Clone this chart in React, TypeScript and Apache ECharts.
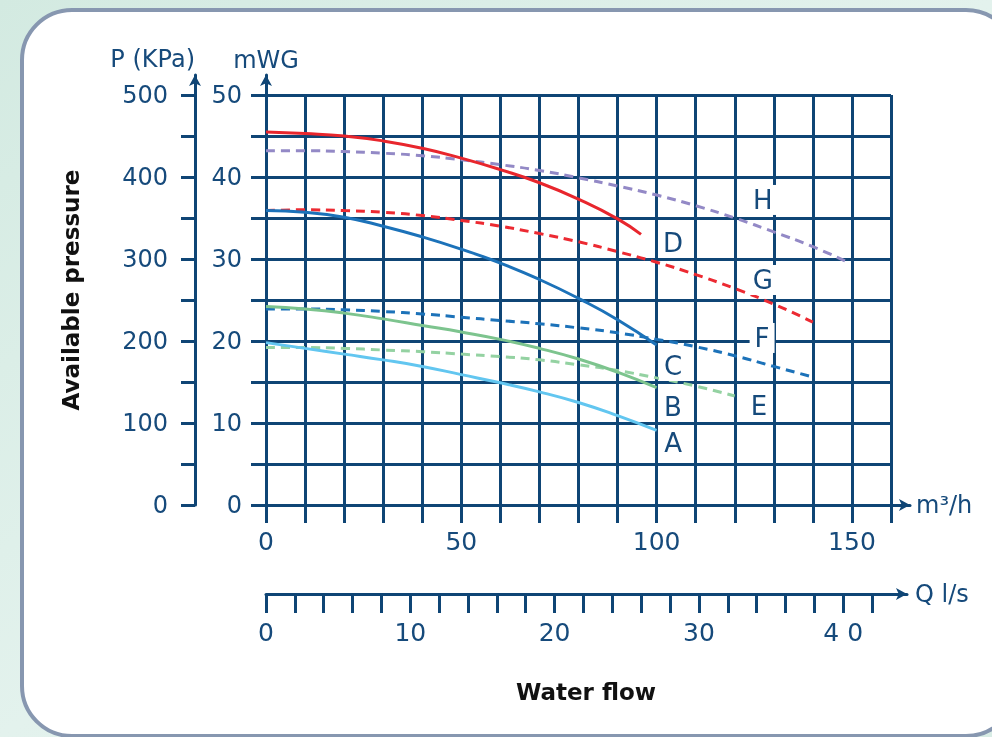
import React, { useEffect, useRef } from "react";
import * as echarts from "echarts";

const FONT = "DejaVu Sans, Liberation Sans, sans-serif";
const NAVY = "#0f4575";
const TEXT = "#164a7b";

// Flow in m3/h, head in mWG
const curveA = [[0, 19.8], [10, 19.1], [20, 18.4], [30, 17.7], [40, 16.9], [50, 15.9], [60, 14.9], [70, 13.8], [80, 12.5], [90, 10.9], [100, 9.1]];
const curveB = [[0, 24.2], [10, 23.9], [20, 23.4], [30, 22.7], [40, 21.9], [50, 21.1], [60, 20.2], [70, 19.1], [80, 17.8], [90, 16.2], [100, 14.3]];
const curveC = [[0, 35.9], [10, 35.7], [20, 35.1], [30, 34.0], [40, 32.7], [50, 31.2], [60, 29.5], [70, 27.5], [80, 25.2], [90, 22.6], [100, 19.5]];
const curveD = [[0, 45.5], [10, 45.3], [20, 45.0], [30, 44.4], [40, 43.5], [50, 42.3], [60, 40.9], [70, 39.3], [80, 37.3], [90, 34.9], [96, 33.0]];
const curveE = [[0, 19.2], [10, 19.2], [20, 19.1], [30, 18.9], [40, 18.7], [50, 18.4], [60, 18.1], [70, 17.7], [80, 17.1], [90, 16.4], [100, 15.5], [110, 14.5], [120, 13.3]];
const curveF = [[0, 23.9], [10, 23.9], [20, 23.8], [30, 23.6], [40, 23.3], [50, 22.9], [60, 22.5], [70, 22.1], [80, 21.6], [90, 21.0], [100, 20.2], [110, 19.3], [120, 18.2], [130, 16.9], [140, 15.6]];
const curveG = [[0, 35.9], [10, 36.0], [20, 35.9], [30, 35.7], [40, 35.3], [50, 34.7], [60, 34.0], [70, 33.1], [80, 32.1], [90, 30.9], [100, 29.6], [110, 28.1], [120, 26.4], [130, 24.5], [140, 22.3]];
const curveH = [[0, 43.2], [10, 43.2], [20, 43.1], [30, 42.9], [40, 42.6], [50, 42.1], [60, 41.5], [70, 40.8], [80, 39.9], [90, 38.9], [100, 37.8], [110, 36.5], [120, 35.0], [130, 33.3], [140, 31.5], [149, 29.6]];

// Curve tags (anchor in data coordinates: m3/h, mWG)
const tagNames = ["A", "B", "C", "D", "E", "F", "G", "H"];
const tagFlow = [104.2, 104.2, 104.2, 104.2, 126.2, 127.0, 127.2, 127.2];
const tagHead = [7.56, 11.95, 16.95, 31.95, 12.07, 20.37, 27.44, 37.2];

// Axis ticks
const flowLabels = [0, 50, 100, 150];
const kpaTicks = [0, 50, 100, 150, 200, 250, 300, 350, 400, 450, 500];
const kpaLabels = [0, 100, 200, 300, 400, 500];
const lsTicks = [0, 2, 4, 6, 8, 10, 12, 14, 16, 18, 20, 22, 24, 26, 28, 30, 32, 34, 36, 38, 40, 42];
const lsLabels = [0, 10, 20, 30, 40];

const curveStyles = [
  { data: curveH, color: "#9389c6", dashed: true },
  { data: curveG, color: "#ec2a32", dashed: true },
  { data: curveD, color: "#e8262d", dashed: false },
  { data: curveF, color: "#1c72b9", dashed: true },
  { data: curveC, color: "#1c72b9", dashed: false },
  { data: curveE, color: "#94d2a2", dashed: true },
  { data: curveB, color: "#7dc48e", dashed: false },
  { data: curveA, color: "#62c6f0", dashed: false },
];

export default function App() {
  const ref = useRef<HTMLDivElement>(null);

  useEffect(() => {
    if (!ref.current) return;
    const chart = echarts.init(ref.current, undefined, { renderer: "svg" });

    const hiddenAxis = (gridIndex: number) => ({
      type: "value",
      gridIndex,
      show: false,
      min: 0,
      max: 1,
    });

    const navyLine = { color: NAVY, width: 3 };

    const option: any = {
      animation: false,
      backgroundColor: "transparent",
      textStyle: { fontFamily: FONT },
      graphic: {
        elements: [
          {
            type: "rect",
            z: -20,
            silent: true,
            shape: { x: 0, y: 0, width: 992, height: 737 },
            style: {
              fill: new echarts.graphic.LinearGradient(0, 0, 1, 1, [
                { offset: 0, color: "#d3eae1" },
                { offset: 0.5, color: "#e3f2ed" },
                { offset: 1, color: "#d8ece5" },
              ]),
            },
          },
          {
            type: "rect",
            z: -19,
            silent: true,
            shape: { x: 22, y: 10, width: 994, height: 726, r: 50 },
            style: { fill: "#ffffff", stroke: "#8797b0", lineWidth: 4 },
          },
          {
            type: "text",
            z: 5,
            x: 71,
            y: 290,
            rotation: Math.PI / 2,
            style: {
              text: "Available pressure",
              fontFamily: FONT,
              fontSize: 23,
              fontWeight: "bold",
              fill: "#111111",
              align: "center",
              verticalAlign: "middle",
            },
          },
          {
            type: "text",
            z: 5,
            x: 586,
            y: 692,
            style: {
              text: "Water flow",
              fontFamily: FONT,
              fontSize: 23,
              fontWeight: "bold",
              fill: "#111111",
              align: "center",
              verticalAlign: "middle",
            },
          },
        ],
      },
      grid: [
        { left: 266, top: 95, width: 625, height: 410 },
        { left: 266, top: 75, width: 625, height: 430 },
        { left: 195, top: 75, width: 100, height: 430 },
        { left: 266, top: 95, width: 644, height: 410 },
        { left: 266, top: 95, width: 641, height: 499 },
      ],
      xAxis: [
        {
          type: "value",
          gridIndex: 0,
          min: 0,
          max: 160,
          interval: 10,
          axisLine: { show: false },
          axisTick: { show: true, length: 18, lineStyle: navyLine },
          splitLine: { show: true, lineStyle: navyLine },
          axisLabel: {
            customValues: flowLabels,
            fontSize: 25,
            color: TEXT,
            fontFamily: FONT,
            margin: 24,
          },
        },
        hiddenAxis(1),
        hiddenAxis(2),
        {
          type: "value",
          gridIndex: 3,
          min: 0,
          max: 164.9,
          axisLine: { show: true, symbol: ["none", "arrow"], symbolSize: [9, 11], lineStyle: navyLine },
          axisTick: { show: false },
          axisLabel: { show: false },
          splitLine: { show: false },
          name: "m³/h",
          nameLocation: "end",
          nameGap: 6,
          nameTextStyle: {
            fontSize: 24,
            color: TEXT,
            fontFamily: FONT,
            align: "left",
            verticalAlign: "middle",
            padding: [0, 0, 16, 0],
          },
        },
        {
          type: "value",
          gridIndex: 4,
          min: 0,
          max: 44.42,
          axisLine: { show: true, symbol: ["none", "arrow"], symbolSize: [9, 11], lineStyle: navyLine },
          axisTick: { show: true, customValues: lsTicks, length: 19, lineStyle: navyLine },
          axisLabel: {
            customValues: lsLabels,
            formatter: (v: number) => (v === 40 ? "4 0" : String(v)),
            fontSize: 25,
            color: TEXT,
            fontFamily: FONT,
            margin: 26,
          },
          splitLine: { show: false },
          name: "Q l/s",
          nameLocation: "end",
          nameGap: 8,
          nameTextStyle: {
            fontSize: 24,
            color: TEXT,
            fontFamily: FONT,
            align: "left",
            verticalAlign: "middle",
            padding: [0, 0, 14, 0],
          },
        },
      ],
      yAxis: [
        {
          type: "value",
          gridIndex: 0,
          min: 0,
          max: 50,
          interval: 5,
          axisLine: { show: true, lineStyle: navyLine },
          axisTick: { show: true, length: 15, lineStyle: navyLine },
          splitLine: { show: true, lineStyle: navyLine },
          axisLabel: {
            formatter: (v: number) => (v % 10 === 0 ? String(v) : ""),
            fontSize: 24,
            color: TEXT,
            fontFamily: FONT,
            margin: 24,
          },
        },
        {
          type: "value",
          gridIndex: 1,
          min: 0,
          max: 52.44,
          axisLine: { show: true, symbol: ["none", "arrow"], symbolSize: [9, 11], lineStyle: navyLine },
          axisTick: { show: false },
          axisLabel: { show: false },
          splitLine: { show: false },
          name: "mWG",
          nameLocation: "end",
          nameGap: 3,
          nameTextStyle: { fontSize: 24, color: TEXT, fontFamily: FONT },
        },
        {
          type: "value",
          gridIndex: 2,
          min: 0,
          max: 524.4,
          axisLine: { show: true, symbol: ["none", "arrow"], symbolSize: [9, 11], lineStyle: navyLine },
          axisTick: { show: true, customValues: kpaTicks, length: 14, lineStyle: navyLine },
          axisLabel: {
            customValues: kpaLabels,
            fontSize: 24,
            color: TEXT,
            fontFamily: FONT,
            margin: 27,
          },
          splitLine: { show: false },
          name: "P (KPa)",
          nameLocation: "end",
          nameGap: 4,
          nameTextStyle: { fontSize: 24, color: TEXT, fontFamily: FONT, align: "right", padding: [0, 0, 0, 0] },
        },
        hiddenAxis(3),
        hiddenAxis(4),
      ],
      series: [
        ...curveStyles.map((c) => ({
          type: "line",
          xAxisIndex: 0,
          yAxisIndex: 0,
          data: c.data,
          smooth: 0.5,
          symbol: "none",
          z: 3,
          lineStyle: { color: c.color, width: 3, type: c.dashed ? [9, 6] : "solid" },
        })),
        {
          type: "scatter",
          xAxisIndex: 0,
          yAxisIndex: 0,
          symbolSize: 1,
          z: 6,
          itemStyle: { color: NAVY, opacity: 0 },
          data: tagNames.map((n, i) => ({ name: n, value: [tagFlow[i], tagHead[i]] })),
          label: {
            show: true,
            position: "inside",
            formatter: (p: any) => p.name,
            fontSize: 26,
            color: TEXT,
            opacity: 1,
            textBorderWidth: 0,
            textBorderColor: "transparent",
            fontFamily: FONT,
            backgroundColor: "#ffffff",
            padding: [3, 5, 1, 5],
          },
        },
      ],
    };

    chart.setOption(option);
    return () => chart.dispose();
  }, []);

  return (
    <div
      ref={ref}
      style={{ position: "fixed", left: 0, top: 0, width: 992, height: 737 }}
    />
  );
}
